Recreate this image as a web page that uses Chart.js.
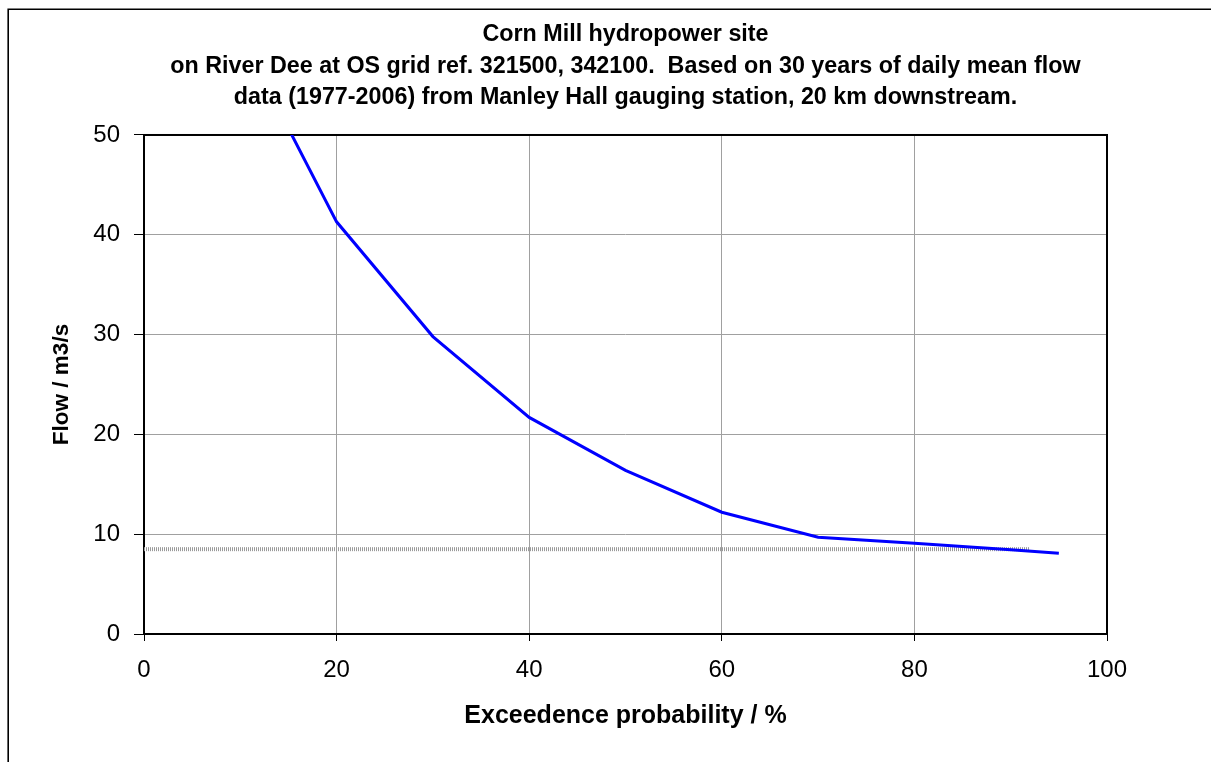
<!DOCTYPE html>
<html>
<head>
<meta charset="utf-8">
<script src="https://cdn.jsdelivr.net/npm/chart.js@4/dist/chart.umd.min.js"></script>
<style>
  html, body { margin: 0; padding: 0; background: #ffffff; }
  #wrap { width: 1211px; height: 762px; position: relative; }
</style>
</head>
<body>
<div id="wrap"><canvas id="chart" width="1211" height="762"></canvas></div>
<script>
// ---- data ----
const titleLines = [
  'Corn Mill hydropower site',
  'on River Dee at OS grid ref. 321500, 342100.  Based on 30 years of daily mean flow',
  'data (1977-2006) from Manley Hall gauging station, 20 km downstream.'
];
const xAxisTitle = 'Exceedence probability / %';
const yAxisTitle = 'Flow / m3/s';
const xTickValues = [0, 20, 40, 60, 80, 100];
const yTickValues = [0, 10, 20, 30, 40, 50];
const exceedence = [10, 20, 30, 40, 50, 60, 70, 80, 90, 95];
const flow = [60, 41.3, 29.8, 21.7, 16.4, 12.2, 9.7, 9.1, 8.45, 8.1];
const refLineX = [0, 92];
const refLineY = [8.5, 8.5];

const FONT = "'Liberation Sans', Arial, Helvetica, sans-serif";

const flowPoints = exceedence.map((x, i) => ({ x: x, y: flow[i] }));
const refPoints = refLineX.map((x, i) => ({ x: x, y: refLineY[i] }));

const framePlugin = {
  id: 'frame',
  beforeDraw(chart) {
    const ctx = chart.ctx;
    ctx.save();
    ctx.fillStyle = '#ffffff';
    ctx.fillRect(0, 0, chart.width, chart.height);
    ctx.strokeStyle = '#000000';
    ctx.lineWidth = 1.6;
    ctx.beginPath();
    ctx.moveTo(8.2, chart.height);
    ctx.lineTo(8.2, 9.3);
    ctx.lineTo(chart.width, 9.3);
    ctx.stroke();
    ctx.restore();
  },
  beforeDatasetsDraw(chart) {
    const a = chart.chartArea;
    const ctx = chart.ctx;
    ctx.save();
    ctx.strokeStyle = '#000000';
    ctx.lineWidth = 2;
    ctx.strokeRect(a.left, a.top, a.right - a.left, a.bottom - a.top);
    ctx.restore();
  }
};

new Chart(document.getElementById('chart'), {
  type: 'line',
  data: {
    datasets: [
      {
        label: 'Reference flow',
        data: refPoints,
        borderColor: '#9a9a9a',
        borderWidth: 4,
        borderDash: [1, 1],
        pointRadius: 0,
        fill: false,
        tension: 0,
        order: 2
      },
      {
        label: 'Flow duration',
        data: flowPoints,
        borderColor: '#0000ff',
        borderWidth: 3,
        pointRadius: 0,
        fill: false,
        tension: 0,
        order: 1
      }
    ]
  },
  options: {
    responsive: false,
    animation: false,
    devicePixelRatio: 1,
    layout: { padding: { left: 0, right: 104, top: 0, bottom: 0 } },
    plugins: {
      legend: { display: false },
      tooltip: { enabled: false },
      title: {
        display: true,
        fullSize: false,
        text: titleLines,
        color: '#000000',
        font: { family: FONT, size: 23.3, weight: 'bold', lineHeight: 1.341 },
        padding: { top: 19.4, bottom: 21.85 }
      }
    },
    scales: {
      x: {
        type: 'linear',
        min: 0,
        max: 100,
        afterBuildTicks(scale) { scale.ticks = xTickValues.map(v => ({ value: v })); },
        afterFit(scale) { scale.height = 128; },
        ticks: {
          color: '#000000',
          font: { family: FONT, size: 24 },
          padding: 15,
          maxRotation: 0,
          autoSkip: false
        },
        grid: {
          color: '#a0a0a0',
          lineWidth: 1,
          drawTicks: true,
          tickLength: 7,
          tickColor: '#000000'
        },
        border: { display: false },
        title: {
          display: true,
          text: xAxisTitle,
          color: '#000000',
          font: { family: FONT, size: 25, weight: 'bold', lineHeight: 1.2 },
          padding: { top: 0, bottom: 31 }
        }
      },
      y: {
        type: 'linear',
        min: 0,
        max: 50,
        afterBuildTicks(scale) { scale.ticks = yTickValues.map(v => ({ value: v })); },
        afterFit(scale) { scale.width = 144; },
        ticks: {
          color: '#000000',
          font: { family: FONT, size: 24 },
          padding: 14,
          autoSkip: false
        },
        grid: {
          color: '#a0a0a0',
          lineWidth: 1,
          drawTicks: true,
          tickLength: 10,
          tickColor: '#000000'
        },
        border: { display: false },
        title: {
          display: true,
          text: yAxisTitle,
          color: '#000000',
          font: { family: FONT, size: 22.5, weight: 'bold', lineHeight: 1.2 },
          padding: { top: 48, bottom: 0 }
        }
      }
    }
  },
  plugins: [framePlugin]
});
</script>
</body>
</html>
